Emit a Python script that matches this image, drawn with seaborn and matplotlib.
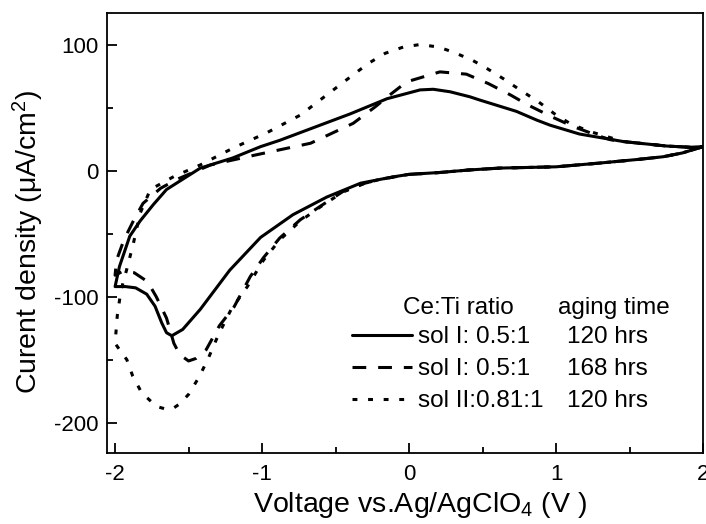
import numpy as np
import pandas as pd
import matplotlib
matplotlib.use("Agg")
import matplotlib.pyplot as plt
from matplotlib.ticker import MultipleLocator
import seaborn as sns

# ---------------- data ----------------
# each loop: cathodic branch (2 V -> -2 V) followed by anodic branch (-2 V -> 2 V)
solid_v = [2.0, 1.86, 1.73, 1.57, 1.3, 1.0, 0.62, 0.41, 0.21, 0.0, -0.11, -0.33, -0.56,
           -0.79, -1.01, -1.22, -1.42, -1.54, -1.614, -1.65, -1.683, -1.728, -1.785, -1.86,
           -1.93, -2.0,
           -1.97, -1.9, -1.83, -1.74, -1.65, -1.42, -1.2, -1.01, -0.88, -0.56, -0.40, -0.15,
           0.075, 0.165, 0.28, 0.415, 0.48, 0.73, 0.87, 0.96, 1.16, 1.46, 1.75, 1.91, 2.0]
solid_j = [19, 14, 11, 9, 6, 3, 2, 0.5, -1.5, -3, -5, -10, -21,
           -35, -53, -79, -110, -126, -131, -128.6, -120.7, -107.6, -98, -93,
           -92, -92,
           -76, -52, -40, -27, -15, 2, 10, 19, 24, 38, 45, 57,
           64, 64.5, 62.5, 58.5, 56, 47, 40, 36, 29, 23, 19.5, 18.5, 19]

dash_v = [2.0, 1.86, 1.73, 1.57, 1.3, 1.0, 0.62, 0.41, 0.21, 0.0, -0.2, -0.3, -0.45, -0.6,
          -0.74, -0.88, -0.99, -1.08, -1.19, -1.29, -1.38, -1.45, -1.5, -1.56, -1.6, -1.65,
          -1.72, -1.78, -1.87, -1.95, -2.0,
          -1.99, -1.94, -1.876, -1.81, -1.69, -1.58, -1.35, -1.06, -0.67, -0.38, -0.23,
          -0.12, -0.016, 0.21, 0.39, 0.54, 0.69, 0.81, 0.97, 1.12, 1.29, 1.37, 1.46, 1.75,
          1.91, 2.0]
dash_j = [19, 14, 11, 9, 6, 3, 2, 0.5, -1.5, -3, -7, -10, -16.6, -28,
          -39, -53.5, -69, -84, -108, -123, -142, -149, -151, -146, -137, -117,
          -100, -88, -81, -80, -83,
          -71, -55, -40, -26, -14, -7, 4.5, 12, 21.7, 37.5, 50.6,
          61, 70.4, 78.3, 76.5, 69, 60, 52, 42.7, 34.8, 27.5, 24.5, 23, 19.5,
          18.5, 19]

dot_v = [2.0, 1.86, 1.73, 1.57, 1.3, 1.0, 0.62, 0.41, 0.21, 0.0, -0.2, -0.3, -0.45, -0.6,
         -0.74, -0.88, -0.99, -1.1, -1.21, -1.30, -1.37, -1.43, -1.50, -1.56, -1.61, -1.66,
         -1.72, -1.82, -1.88, -1.92, -1.97, -2.0,
         -1.985, -1.96, -1.92, -1.876, -1.83, -1.76, -1.6, -1.42, -1.195, -0.968, -0.74,
         -0.515, -0.38, -0.277, -0.163, -0.039, 0.075, 0.2, 0.30, 0.43, 0.53, 0.64, 0.755,
         0.88, 0.99, 1.1, 1.23, 1.46, 1.75, 1.91, 2.0]
dot_j = [19, 14, 11, 9, 6, 3, 2, 0.5, -1.5, -3, -7, -10, -17, -28.5,
         -40, -55, -71, -92, -110, -131, -150, -164, -177.5, -185, -189, -189,
         -187, -176, -163, -150, -142, -137,
         -115, -95, -78, -58, -34, -15, -4.7, 4.5, 18, 30, 44,
         64, 76, 85, 93, 98, 100, 98, 94, 87.6, 81, 73, 64,
         54.6, 45, 37, 31, 23, 19.5, 18.5, 19]

ratio_labels = ["sol I: 0.5:1", "sol I: 0.5:1", "sol II:0.81:1"]
aging_labels = ["120 hrs", "168 hrs", "120 hrs"]
header_ratio = "Ce:Ti ratio"
header_aging = "aging time"

x_ticks = [-2, -1, 0, 1, 2]
y_ticks = [-200, -100, 0, 100]

# ---------------- styling ----------------
sns.set_theme(style="ticks")
plt.rcParams["font.family"] = ["Liberation Sans", "DejaVu Sans"]
plt.rcParams["mathtext.fontset"] = "custom"
plt.rcParams["mathtext.rm"] = "Liberation Sans"
plt.rcParams["mathtext.it"] = "Liberation Sans:italic"
plt.rcParams["mathtext.bf"] = "Liberation Sans:bold"
plt.rcParams["text.color"] = "black"
plt.rcParams["axes.labelcolor"] = "black"
plt.rcParams["xtick.color"] = "black"
plt.rcParams["ytick.color"] = "black"
plt.rcParams["axes.edgecolor"] = "black"

fig = plt.figure(figsize=(7.06, 5.24), dpi=100)
ax = fig.add_axes([107 / 706, 1 - 453 / 524, 596 / 706, 440 / 524])

styles = ["-", (0, (4.5, 3.9)), (0, (1.6, 3.5))]
series = [(solid_v, solid_j), (dash_v, dash_j), (dot_v, dot_j)]
for (v, j), ls, lab in zip(series, styles, ratio_labels):
    df = pd.DataFrame({"V": v, "J": j})
    sns.lineplot(data=df, x="V", y="J", sort=False, estimator=None, ax=ax,
                 color="black", linewidth=2.2, linestyle=ls, label=lab)

ax.set_xlim(-2.055, 2.0)
ax.set_ylim(-224, 125)
ax.set_xticks(x_ticks)
ax.set_xticklabels([str(t) for t in x_ticks])
ax.set_yticks(y_ticks)
ax.set_yticklabels([str(t) for t in y_ticks])
ax.xaxis.set_minor_locator(MultipleLocator(0.5))
ax.yaxis.set_minor_locator(MultipleLocator(50))
ax.tick_params(which="major", direction="in", length=7, width=1.3, labelsize=16,
               colors="black", top=False, right=False)
ax.tick_params(axis="x", which="major", pad=8)
ax.tick_params(axis="y", which="major", pad=6)
ax.tick_params(which="minor", direction="in", length=4.5, width=1.3,
               top=False, right=False, colors="black")
for s in ax.spines.values():
    s.set_visible(True)
    s.set_linewidth(1.3)
    s.set_color("black")

ax.set_xlabel("Voltage vs.Ag/AgClO$_4$ (V )", fontsize=20.5, color="black")
ax.set_ylabel("Curent density (μA/cm$^2$)", fontsize=20.5, color="black")
ax.xaxis.set_label_coords((420 - 107) / 596, -0.085)
ax.yaxis.set_label_coords(-0.102, 0.48)

leg = ax.legend(loc="upper left", bbox_to_anchor=((352 - 107) / 596, (453 - 326) / 440),
                frameon=False, fontsize=17.5, handlelength=2.45, handletextpad=0.25,
                labelspacing=0.42, borderpad=0, borderaxespad=0)
for t in leg.get_texts():
    t.set_color("black")

ax.text((403 - 107) / 596, (453 - 308) / 440, header_ratio, transform=ax.transAxes,
        fontsize=17.5, ha="left", va="center", color="black")
ax.text((558 - 107) / 596, (453 - 308) / 440, header_aging, transform=ax.transAxes,
        fontsize=17.5, ha="left", va="center", color="black")

fig.canvas.draw()
inv = ax.transAxes.inverted()
for t, a in zip(leg.get_texts(), aging_labels):
    bb = t.get_window_extent()
    yc = inv.transform((0, (bb.y0 + bb.y1) / 2))[1]
    ax.text((567 - 107) / 596, yc, a, transform=ax.transAxes, fontsize=17.5,
            ha="left", va="center", color="black")

fig.savefig("out.png", dpi=100)
